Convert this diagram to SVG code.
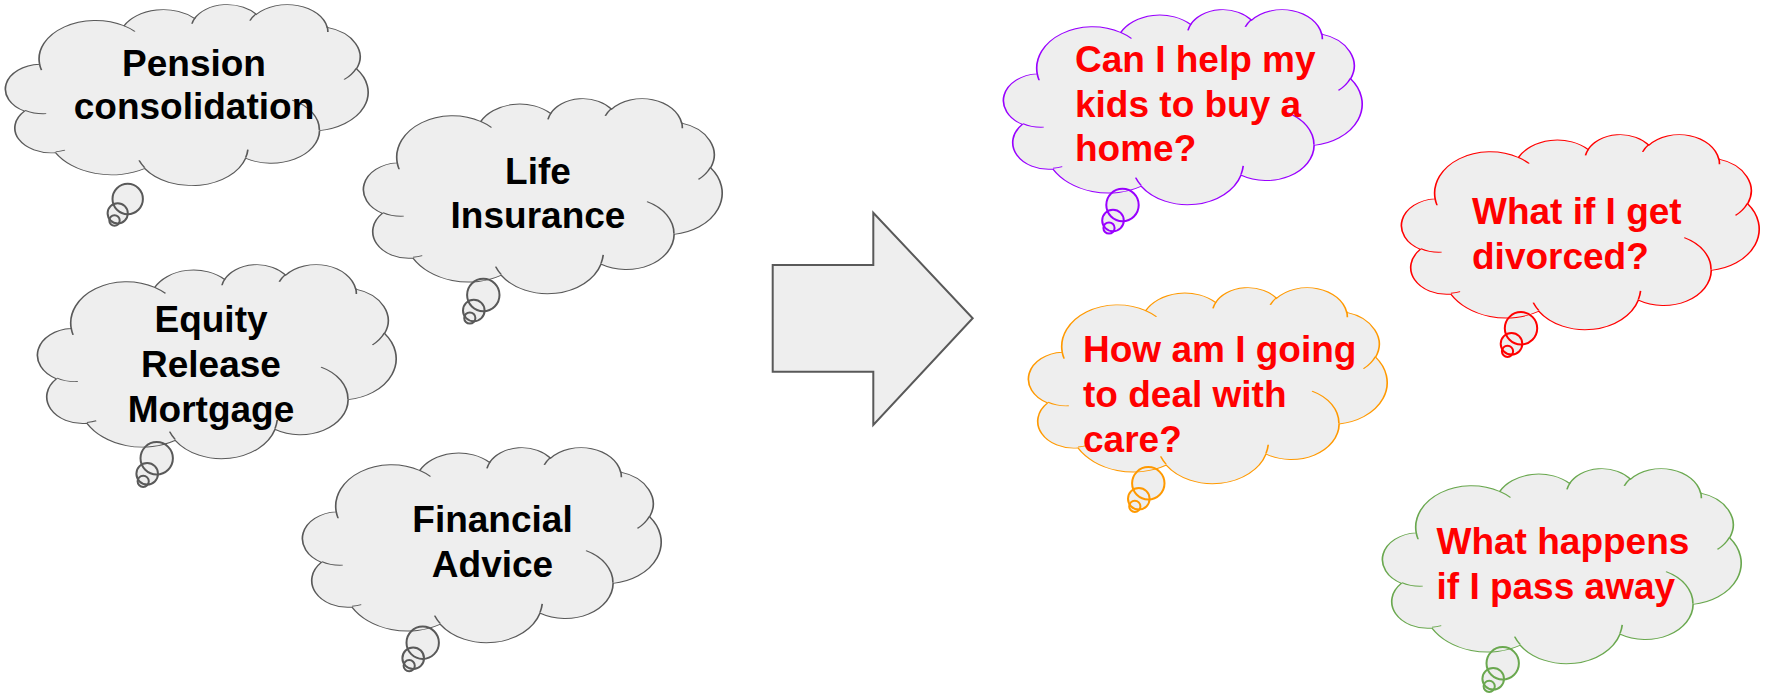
<svg xmlns="http://www.w3.org/2000/svg" xmlns:xlink="http://www.w3.org/1999/xlink" width="1767" height="694" viewBox="0 0 1767 694">
<defs>
<style>
.f{fill:#eeeeee;stroke:none}
.s{fill:none;stroke-width:2;vector-effect:non-scaling-stroke}
.gray{stroke:#595959}
.purple{stroke:#9900ff}
.orange{stroke:#ff9900}
.red{stroke:#ff0000}
.green{stroke:#6aa84f}
.bt{font-family:"Liberation Sans",Arial,sans-serif;font-weight:bold;font-size:37px;fill:#000000;text-anchor:middle}
.rt{font-family:"Liberation Sans",Arial,sans-serif;font-weight:bold;font-size:37px;fill:#ff0000}
</style>
<path id="cloud" d="M39,143.7 A67.53,91.9 0 0 1 140.04,52.02 A53.33,72.67 0 0 1 224.58,34.32 A43.65,59.45 0 0 1 298.36,24.82 A48.57,65.95 0 0 1 383.21,55.77 A53.33,72.73 0 0 1 418.21,154.61 A67.75,92.2 0 0 1 374.06,302.03 A57.85,78.67 0 0 1 285.58,368.14 A67.52,92.15 0 0 1 164.82,392.68 A77.2,105.43 0 0 1 58.05,354.74 A43.6,59.18 0 0 1 21.12,255.55 A43.45,59.45 0 0 1 39,143.7 Z"/>
<path id="inner" d="M46.93,261.77 A43.45,59.45 0 0 1 21.61,253.81 M69.28,348.99 A43.6,59.18 0 0 1 58.19,352.81 M164.78,390.9 A67.52,92.15 0 0 1 158.1,373.48 M288.27,347.51 A67.52,92.15 0 0 1 285.61,366.59 M341.29,229.54 A57.85,78.67 0 0 1 373.81,300.9 M417.98,153.54 A53.33,72.73 0 0 1 403.49,180.31 M383.24,54.26 A48.57,65.95 0 0 1 384,66.9 M290.78,39.52 A48.57,65.95 0 0 1 298.2,23.4 M221.41,47.2 A43.65,59.45 0 0 1 225,33.3 M140,51.92 A67.53,91.9 0 0 1 153.03,65.44 M41.27,157.89 A67.53,91.9 0 0 1 39.01,143.71"/>
<g id="tail"><circle cx="0" cy="0" r="16.2"/><circle cx="-9.5" cy="15.5" r="10.8"/><circle cx="-13.5" cy="23" r="5.6"/></g>
<g id="tailP"><circle cx="0" cy="0" r="15.2"/><circle cx="-10" cy="14.3" r="10.1"/><circle cx="-13.2" cy="21.5" r="5.2"/></g>
</defs>
<rect x="0" y="0" width="1767" height="694" fill="#ffffff"/>

<g id="pension">
<use xlink:href="#cloud" class="f" transform="translate(7,4) scale(0.8356,0.419)"/>
<use xlink:href="#tailP" class="f" transform="translate(127.7,199)"/>
<use xlink:href="#cloud" class="s gray" transform="translate(7,4) scale(0.8356,0.419)"/>
<use xlink:href="#inner" class="s gray" transform="translate(7,4) scale(0.8356,0.419)"/>
<use xlink:href="#tailP" class="s gray" transform="translate(127.7,199)"/>
<text class="bt" x="194" y="76">Pension</text>
<text class="bt" x="194" y="118.5">consolidation</text>
</g>

<g id="life">
<use xlink:href="#cloud" class="f" transform="translate(365,98) scale(0.8264,0.4514)"/>
<use xlink:href="#tail" class="f" transform="translate(483.3,295)"/>
<use xlink:href="#cloud" class="s gray" transform="translate(365,98) scale(0.8264,0.4514)"/>
<use xlink:href="#inner" class="s gray" transform="translate(365,98) scale(0.8264,0.4514)"/>
<use xlink:href="#tail" class="s gray" transform="translate(483.3,295)"/>
<text class="bt" x="538" y="183.5">Life</text>
<text class="bt" x="538" y="228">Insurance</text>
</g>

<g id="equity">
<use xlink:href="#cloud" class="f" transform="translate(39,264) scale(0.8264,0.4491)"/>
<use xlink:href="#tail" class="f" transform="translate(156.7,458.3)"/>
<use xlink:href="#cloud" class="s gray" transform="translate(39,264) scale(0.8264,0.4491)"/>
<use xlink:href="#inner" class="s gray" transform="translate(39,264) scale(0.8264,0.4491)"/>
<use xlink:href="#tail" class="s gray" transform="translate(156.7,458.3)"/>
<text class="bt" x="211" y="331.5">Equity</text>
<text class="bt" x="211" y="376.5">Release</text>
<text class="bt" x="211" y="421.5">Mortgage</text>
</g>

<g id="financial">
<use xlink:href="#cloud" class="f" transform="translate(304,447) scale(0.8264,0.4514)"/>
<use xlink:href="#tail" class="f" transform="translate(422.7,642.7)"/>
<use xlink:href="#cloud" class="s gray" transform="translate(304,447) scale(0.8264,0.4514)"/>
<use xlink:href="#inner" class="s gray" transform="translate(304,447) scale(0.8264,0.4514)"/>
<use xlink:href="#tail" class="s gray" transform="translate(422.7,642.7)"/>
<text class="bt" x="492.5" y="531.5">Financial</text>
<text class="bt" x="492.5" y="576.5">Advice</text>
</g>

<g id="arrow">
<polygon points="772.7,265 873.3,265 873.3,212.7 972.7,318.3 873.3,425 873.3,371.7 772.7,371.7" fill="#eeeeee" stroke="#595959" stroke-width="2"/>
</g>

<g id="kids">
<use xlink:href="#cloud" class="f" transform="translate(1005,9) scale(0.8264,0.4514)"/>
<use xlink:href="#tail" class="f" transform="translate(1122.5,205)"/>
<use xlink:href="#cloud" class="s purple" transform="translate(1005,9) scale(0.8264,0.4514)"/>
<use xlink:href="#inner" class="s purple" transform="translate(1005,9) scale(0.8264,0.4514)"/>
<use xlink:href="#tail" class="s purple" transform="translate(1122.5,205)"/>
<text class="rt" x="1075" y="72">Can I help my</text>
<text class="rt" x="1075" y="116.5">kids to buy a</text>
<text class="rt" x="1075" y="161">home?</text>
</g>

<g id="care">
<use xlink:href="#cloud" class="f" transform="translate(1030,287) scale(0.8264,0.4537)"/>
<use xlink:href="#tail" class="f" transform="translate(1148.3,483.3)"/>
<use xlink:href="#cloud" class="s orange" transform="translate(1030,287) scale(0.8264,0.4537)"/>
<use xlink:href="#inner" class="s orange" transform="translate(1030,287) scale(0.8264,0.4537)"/>
<use xlink:href="#tail" class="s orange" transform="translate(1148.3,483.3)"/>
<text class="rt" x="1083" y="361.5">How am I going</text>
<text class="rt" x="1083" y="406.5">to deal with</text>
<text class="rt" x="1083" y="451.5">care?</text>
</g>

<g id="divorced">
<use xlink:href="#cloud" class="f" transform="translate(1403,134) scale(0.8241,0.4514)"/>
<use xlink:href="#tail" class="f" transform="translate(1521,328.3)"/>
<use xlink:href="#cloud" class="s red" transform="translate(1403,134) scale(0.8241,0.4514)"/>
<use xlink:href="#inner" class="s red" transform="translate(1403,134) scale(0.8241,0.4514)"/>
<use xlink:href="#tail" class="s red" transform="translate(1521,328.3)"/>
<text class="rt" x="1472" y="223.5">What if I get</text>
<text class="rt" x="1472" y="268.5">divorced?</text>
</g>

<g id="passaway">
<use xlink:href="#cloud" class="f" transform="translate(1384,468) scale(0.8264,0.4514)"/>
<use xlink:href="#tail" class="f" transform="translate(1502.7,663.3)"/>
<use xlink:href="#cloud" class="s green" transform="translate(1384,468) scale(0.8264,0.4514)"/>
<use xlink:href="#inner" class="s green" transform="translate(1384,468) scale(0.8264,0.4514)"/>
<use xlink:href="#tail" class="s green" transform="translate(1502.7,663.3)"/>
<text class="rt" x="1436.5" y="553.5">What happens</text>
<text class="rt" x="1436.5" y="598.5">if I pass away</text>
</g>

<g id="connectors"></g>
</svg>
